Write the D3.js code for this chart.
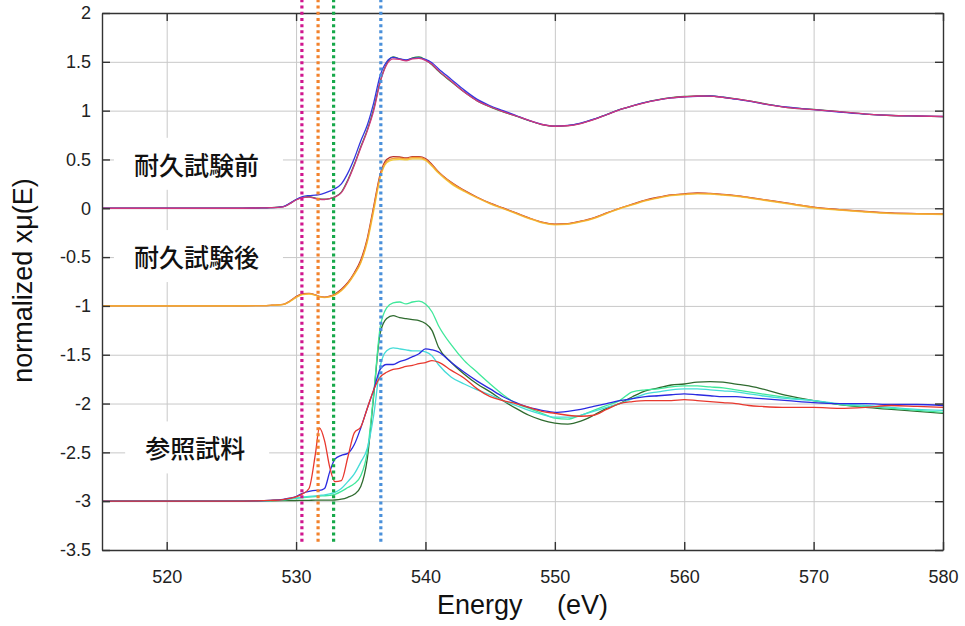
<!DOCTYPE html>
<html>
<head>
<meta charset="utf-8">
<script src="https://cdn.jsdelivr.net/npm/d3@7"></script>
<style>
  body { margin: 0; background: #fff; }
  text { font-family: "Liberation Sans", Arial, sans-serif; }
</style>
</head>
<body>
<div id="chart"></div>
<script>
// Energy grid (eV), shared by all spectra
var energy = [515, 520, 525, 527, 528, 529, 529.5, 530, 530.5, 531, 531.5, 531.8, 532.2, 532.6, 533,
  533.5, 534, 534.5, 535, 535.5, 536, 536.5, 537, 537.5, 538, 538.5, 539, 539.5, 540, 540.5,
  541, 542, 543, 544, 545, 546, 547, 548, 549, 550, 551, 552, 553, 554, 555, 556, 557, 558,
  559, 560, 561, 562, 563, 564, 565, 566, 568, 570, 572, 574, 576, 578, 580];

// 耐久試験前 (offset so pre-edge = 0)
var g1Green = [0,0,0,.003,.006, .016,.047,.087,.112,.118, .104,.095,.093,.1,.118, .165,.29,.45,.63,.8,
  1.02,1.3,1.48,1.55,1.53, 1.515,1.54,1.55,1.52,1.47, 1.405,1.295,1.19,1.1,1.038, .988,.943,.898,.857,.84,
  .846,.87,.91,.96,1.01, 1.05,1.085,1.112,1.133,1.145, 1.152,1.15,1.137,1.12,1.1, 1.076,1.032,1.012,.99,.965, .95,.944,.938];
var g1Blue = [0,0,0,.003,.006, .018,.05,.09,.12,.13, .135,.14,.155,.175,.2, .25,.36,.51,.69,.85,
  1.08,1.36,1.5,1.545,1.53, 1.52,1.535,1.54,1.525,1.49, 1.43,1.32,1.21,1.115,1.05, 1.0,.95,.9,.86,.842,
  .848,.872,.912,.96,1.01, 1.05,1.085,1.11,1.13,1.14, 1.147,1.15,1.137,1.117,1.097, 1.072,1.035,1.01,.985,.965, .952,.945,.94];
var g1Magenta = [0,0,0,.003,.006, .015,.045,.085,.11,.115, .1,.092,.09,.098,.115, .16,.28,.44,.62,.79,
  1.0,1.29,1.47,1.53,1.525, 1.51,1.53,1.535,1.515,1.475, 1.41,1.3,1.19,1.1,1.04, .99,.945,.9,.858,.84,
  .845,.868,.908,.958,1.008, 1.048,1.083,1.11,1.13,1.142, 1.15,1.148,1.135,1.12,1.1, 1.075,1.03,1.01,.99,.965, .95,.945,.94];

// 耐久試験後 (pre-edge = -1)
var g2Red = [-1,-1,-1,-.997,-.994, -.984,-.952,-.905,-.875,-.872, -.888,-.903,-.91,-.9,-.878, -.83,-.76,-.66,-.53,-.31,
  .02,.35,.5,.53,.525, .515,.53,.53,.51,.45, .375,.265,.183,.113,.052, .003,-.047,-.098,-.142,-.162,
  -.157,-.132,-.098,-.048,0, .042,.083,.113,.137,.148, .157,.152,.143,.13,.112, .092,.052,.012,-.013,-.033, -.048,-.054,-.058];
var g2Yellow = [-1,-1,-1,-.998,-.995, -.987,-.958,-.915,-.885,-.88, -.893,-.907,-.915,-.908,-.89, -.845,-.775,-.68,-.56,-.35,
  -.03,.31,.465,.495,.5, .495,.505,.505,.49,.43, .36,.25,.172,.105,.045, -.005,-.055,-.105,-.15,-.17,
  -.165,-.14,-.105,-.055,-.005, .035,.075,.105,.13,.14, .147,.145,.135,.123,.105, .085,.045,.005,-.02,-.04, -.055,-.06,-.064];
var g2Orange = [-1,-1,-1,-.997,-.994, -.985,-.955,-.91,-.88,-.875, -.89,-.905,-.912,-.905,-.885, -.84,-.77,-.67,-.55,-.33,
  0,.33,.48,.51,.515, .505,.52,.52,.5,.44, .37,.26,.18,.11,.05, 0,-.05,-.1,-.145,-.165,
  -.16,-.135,-.1,-.05,0, .04,.08,.11,.135,.145, .152,.15,.14,.128,.11, .09,.05,.01,-.015,-.035, -.05,-.056,-.06];

// 参照試料 (pre-edge = -3)
var g3DarkGreen = [-3,-3,-3,-2.998,-2.996, -2.995,-2.994,-2.993,-2.992,-2.991, -2.99,-2.99,-2.99,-2.99,-2.988, -2.98,-2.96,-2.93,-2.85,-2.57,
  -1.92,-1.28,-1.13,-1.1,-1.12, -1.13,-1.14,-1.15,-1.18,-1.25, -1.42,-1.58,-1.7,-1.8,-1.88, -1.97,-2.05,-2.12,-2.17,-2.2,
  -2.21,-2.18,-2.12,-2.05,-2.0, -1.93,-1.87,-1.84,-1.81,-1.8, -1.78,-1.775,-1.78,-1.8,-1.82, -1.85,-1.92,-1.97,-2.01,-2.04, -2.06,-2.08,-2.1];
var g3LightGreen = [-3,-3,-3,-2.997,-2.994, -2.987,-2.98,-2.972,-2.965,-2.958, -2.952,-2.948,-2.945,-2.94,-2.93, -2.9,-2.86,-2.82,-2.74,-2.5,
  -1.9,-1.22,-1.02,-.97,-.96, -.98,-.96,-.95,-.98,-1.06, -1.2,-1.4,-1.56,-1.68,-1.8, -1.91,-2.0,-2.05,-2.1,-2.15,
  -2.16,-2.12,-2.07,-2.02,-1.97, -1.88,-1.86,-1.85,-1.83,-1.82, -1.82,-1.83,-1.84,-1.86,-1.88, -1.9,-1.94,-1.97,-2.01,-2.03, -2.05,-2.07,-2.09];
var g3Cyan = [-3,-3,-3,-2.997,-2.993, -2.985,-2.977,-2.967,-2.958,-2.95, -2.945,-2.94,-2.935,-2.925,-2.91, -2.87,-2.8,-2.72,-2.6,-2.46,
  -2.12,-1.62,-1.46,-1.43,-1.44, -1.45,-1.46,-1.46,-1.47,-1.51, -1.6,-1.73,-1.8,-1.86,-1.91, -1.97,-2.02,-2.07,-2.11,-2.14,
  -2.14,-2.12,-2.08,-2.04,-2.0, -1.95,-1.9,-1.88,-1.86,-1.85, -1.85,-1.86,-1.87,-1.88,-1.9, -1.92,-1.95,-1.97,-2.0,-2.02, -2.04,-2.06,-2.07];
var g3Blue = [-3,-3,-3,-2.997,-2.992, -2.982,-2.97,-2.952,-2.92,-2.9, -2.89,-2.89,-2.87,-2.7,-2.57, -2.53,-2.51,-2.42,-2.25,-2.05,
  -1.86,-1.65,-1.6,-1.6,-1.57, -1.55,-1.52,-1.49,-1.44,-1.45, -1.47,-1.58,-1.68,-1.77,-1.85, -1.93,-1.99,-2.04,-2.07,-2.09,
  -2.08,-2.06,-2.03,-2.0,-1.97, -1.95,-1.93,-1.92,-1.91,-1.9, -1.91,-1.92,-1.93,-1.93,-1.94, -1.95,-1.97,-1.99,-2.0,-2.0, -2.01,-2.01,-2.02];
var g3Red = [-3,-3,-3,-2.997,-2.992, -2.983,-2.972,-2.955,-2.925,-2.87, -2.51,-2.25,-2.38,-2.65,-2.8, -2.79,-2.55,-2.3,-2.24,-2.05,
  -1.86,-1.73,-1.68,-1.65,-1.64, -1.62,-1.61,-1.59,-1.58,-1.56, -1.575,-1.66,-1.74,-1.85,-1.93, -1.97,-2.0,-2.04,-2.08,-2.1,
  -2.12,-2.13,-2.12,-2.06,-2.0, -1.98,-1.97,-1.97,-1.97,-1.96, -1.97,-1.98,-1.99,-2.0,-2.02, -2.03,-2.04,-2.04,-2.05,-2.04, -2.02,-2.03,-2.04];

// marker energies (dotted lines)
var markerEnergy = [530.45, 531.7, 532.9, 536.55];

var xTicks = [520, 530, 540, 550, 560, 570, 580];
var yTicks = [2, 1.5, 1, 0.5, 0, -0.5, -1, -1.5, -2, -2.5, -3, -3.5];
var groupLabels = ["耐久試験前", "耐久試験後", "参照試料"];

// ---- layout
var svgWidth = 965, svgHeight = 626;
var margin = { top: 13, right: 22, bottom: 76, left: 102 };
var width = svgWidth - margin.left - margin.right;
var height = svgHeight - margin.top - margin.bottom;

var svg = d3.select("#chart").append("svg")
  .attr("width", svgWidth)
  .attr("height", svgHeight);

var chart = svg.append("g")
  .attr("transform", `translate(${margin.left}, ${margin.top})`);

var x = d3.scaleLinear().domain([515, 580]).range([0, width]);
var y = d3.scaleLinear().domain([-3.5, 2]).range([height, 0]);

// gridlines
chart.append("g")
  .attr("class", "grid")
  .attr("transform", `translate(0, ${height})`)
  .call(d3.axisBottom(x).tickValues(xTicks).tickSize(-height).tickFormat(""));
chart.append("g")
  .attr("class", "grid")
  .call(d3.axisLeft(y).tickValues(yTicks).tickSize(-width).tickFormat(""));
chart.selectAll(".grid .domain").remove();
chart.selectAll(".grid line").attr("stroke", "#c8c8c8").attr("stroke-width", 1);

// spectra
var series = [
  { v: g3DarkGreen, c: "#2f6b2f" },
  { v: g3LightGreen, c: "#3fe89a" },
  { v: g3Cyan, c: "#45dcd8" },
  { v: g3Blue, c: "#2a2ae0" },
  { v: g3Red, c: "#e8382e" },
  { v: g2Red, c: "#b8302e" },
  { v: g2Yellow, c: "#f2d040" },
  { v: g2Orange, c: "#f5a033" },
  { v: g1Green, c: "#2e8b3a" },
  { v: g1Blue, c: "#3535e0" },
  { v: g1Magenta, c: "#d2357f" }
];

var line = d3.line()
  .x((d, i) => x(energy[i]))
  .y(d => y(d))
  .curve(d3.curveMonotoneX);

chart.append("g")
  .selectAll("path")
  .data(series)
  .enter()
  .append("path")
  .attr("fill", "none")
  .attr("stroke", d => d.c)
  .attr("stroke-width", 1.3)
  .attr("d", d => line(d.v));

// group labels with white boxes
var labelPos = [[522.3, 0.435], [522.3, -0.51], [522.2, -2.47]];
var labelG = chart.append("g");
groupLabels.forEach(function(t, i) {
  var g = labelG.append("g");
  var rect = g.append("rect").attr("fill", "#fff");
  var txt = g.append("text")
    .attr("x", x(labelPos[i][0]))
    .attr("y", y(labelPos[i][1]))
    .attr("dy", "0.36em")
    .attr("text-anchor", "middle")
    .style("font-family", "'Noto Sans CJK JP', sans-serif")
    .style("font-size", "25px")
    .style("font-weight", 500)
    .attr("fill", "#111")
    .text(t);
  var bb = txt.node().getBBox();
  rect.attr("x", bb.x - 20).attr("y", bb.y - 8)
    .attr("width", bb.width + 44).attr("height", bb.height + 16);
});

// frame + inward ticks on all four sides
function styleAxis(g) {
  g.select(".domain").attr("stroke", "#333").attr("stroke-width", 1.4);
  g.selectAll(".tick line").attr("stroke", "#333").attr("stroke-width", 1.4);
  g.selectAll("text").attr("fill", "#222").style("font-size", "18px")
    .style("font-family", "'Liberation Sans', Arial, sans-serif");
}
var fmt = d => String(d);
chart.append("g")
  .attr("transform", `translate(0, ${height})`)
  .call(d3.axisBottom(x).tickValues(xTicks).tickSizeInner(-8).tickSizeOuter(0).tickPadding(20).tickFormat(fmt))
  .call(styleAxis);
chart.append("g")
  .call(d3.axisTop(x).tickValues(xTicks).tickSizeInner(-8).tickSizeOuter(0).tickFormat(""))
  .call(styleAxis);
chart.append("g")
  .call(d3.axisLeft(y).tickValues(yTicks).tickSizeInner(-8).tickSizeOuter(0).tickPadding(11).tickFormat(fmt))
  .call(styleAxis);
chart.append("g")
  .attr("transform", `translate(${width}, 0)`)
  .call(d3.axisRight(y).tickValues(yTicks).tickSizeInner(-8).tickSizeOuter(0).tickFormat(""))
  .call(styleAxis);

// dotted marker lines
var markerColors = ["#d0168e", "#f2822c", "#17a84a", "#4a90da"];
chart.append("g")
  .selectAll("line")
  .data(markerEnergy)
  .enter()
  .append("line")
  .attr("x1", d => x(d))
  .attr("x2", d => x(d))
  .attr("y1", y(2.14))
  .attr("y2", y(-3.42))
  .attr("stroke", (d, i) => markerColors[i])
  .attr("stroke-width", 3.2)
  .attr("stroke-dasharray", "3,3.2");

// axis titles
svg.append("text")
  .attr("transform", `translate(32, ${margin.top + y(-0.74)}) rotate(-90)`)
  .attr("text-anchor", "middle")
  .style("font-size", "27px")
  .attr("fill", "#111")
  .text("normalized xμ(E)");

svg.append("text")
  .attr("x", margin.left + x(547.5))
  .attr("y", 614)
  .attr("text-anchor", "middle")
  .style("font-size", "27px")
  .style("white-space", "pre")
  .attr("fill", "#111")
  .text("Energy\u3000 (eV)");
</script>
</body>
</html>
